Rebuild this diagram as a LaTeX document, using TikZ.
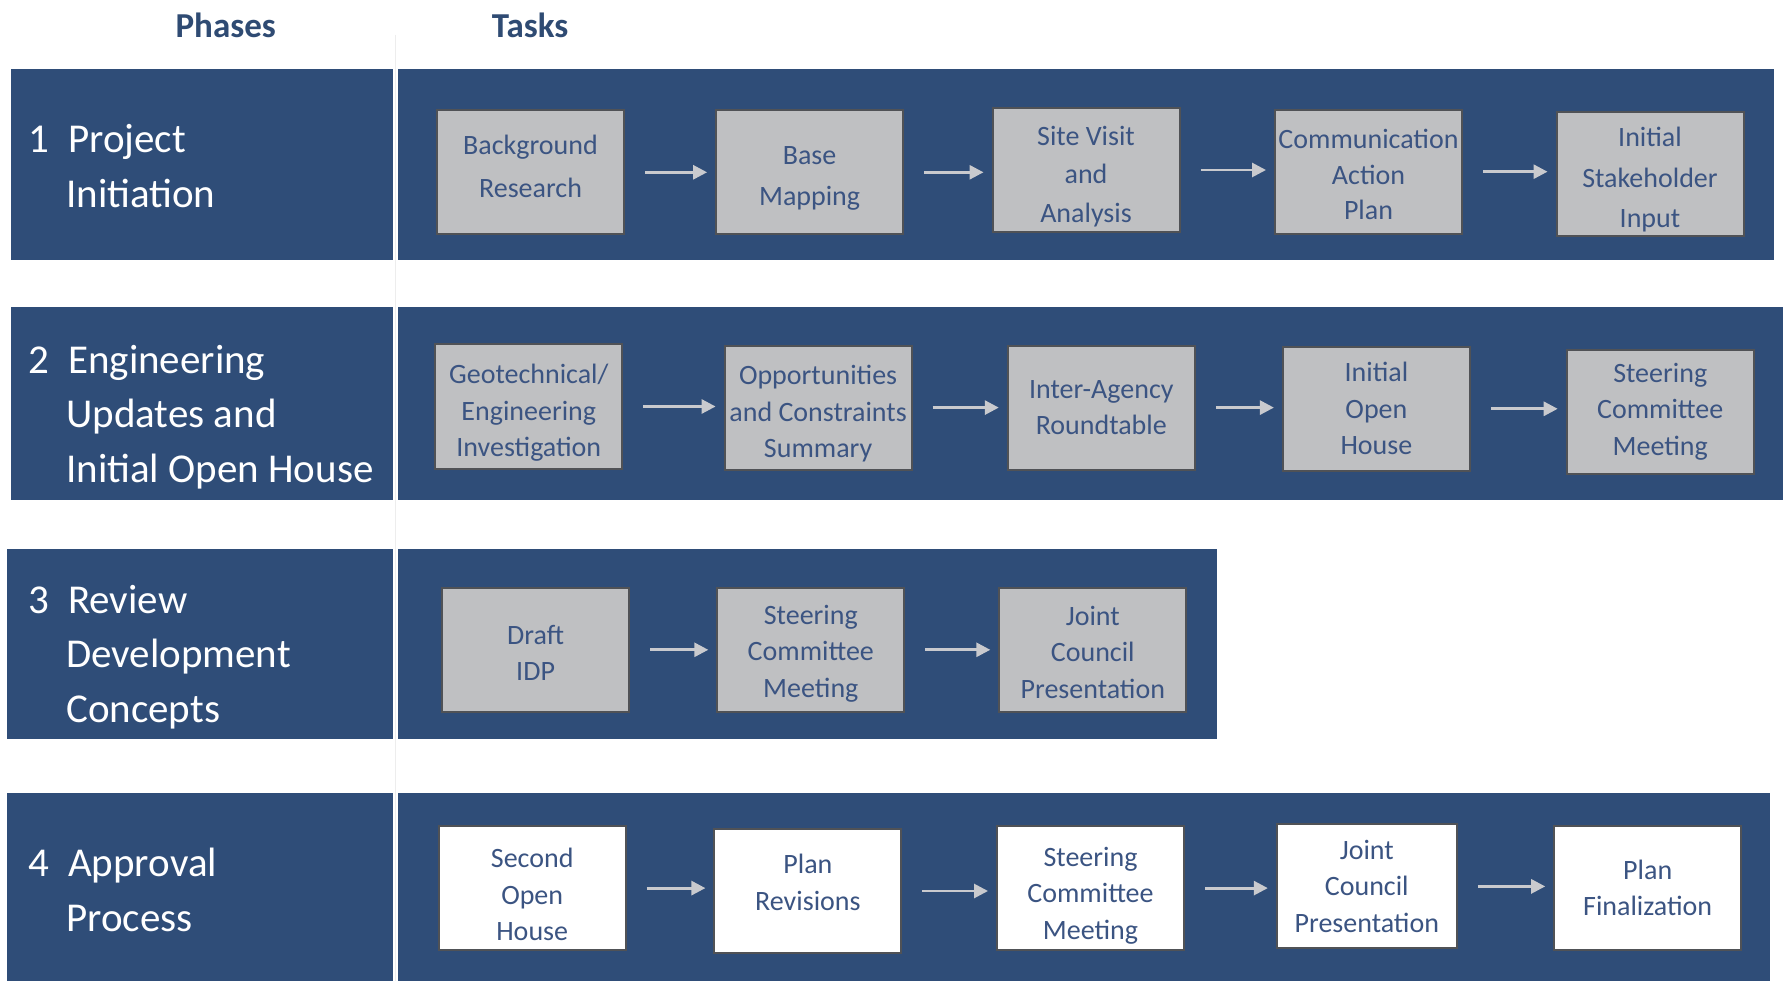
\documentclass[tikz,border=0pt]{standalone}
\usepackage{fontspec}
\setmainfont{Carlito}
\usetikzlibrary{arrows.meta}
\definecolor{bandblue}{HTML}{2F4D78}
\definecolor{boxgray}{HTML}{BFC0C2}
\definecolor{boxborder}{HTML}{505256}
\definecolor{boxtext}{HTML}{3B5482}
\definecolor{arrowgray}{HTML}{C9CACE}
\definecolor{headblue}{HTML}{2F4B73}
\newcommand\tup[1]{\rule{0pt}{#1pt}}
\newcommand\tdn[1]{\rule[-#1pt]{0pt}{#1pt}}
\begin{document}
\begin{tikzpicture}[x=1pt,y=-1pt,
  band/.style={fill=bandblue, draw=none},
  task/.style={draw=boxborder, line width=2pt, fill=boxgray, minimum width=187pt, minimum height=124pt, inner sep=0pt, align=center, text=boxtext, font=\fontsize{28}{36.5}\selectfont},
  wtask/.style={task, fill=white},
  flow/.style={draw=arrowgray, line width=2.8pt, -{Triangle[length=14pt,width=14pt]}, shorten <=20pt, shorten >=8pt},
  phase/.style={anchor=west, align=left, text=white, font=\fontsize{41}{54.5}\selectfont, inner sep=0pt},
  header/.style={text=headblue, font=\fontsize{35}{40}\selectfont\bfseries, inner sep=0pt}
]
\useasboundingbox (0,0) rectangle (1783,981);
\fill[white] (0,0) rectangle (1783,981);
\draw[black!7, line width=1pt] (395.5,35) -- (395.5,981);

% headers
\node[header] (hph) at (225.7,25) {Phases};
\node[header] (hta) at (530,25) {Tasks};

% bands
\fill[band] (11.4,69.4) rectangle (393.4,260.4);
\fill[band] (398,69.4) rectangle (1774,260.4);
\fill[band] (11.4,307) rectangle (393.4,500.3);
\fill[band] (398,307) rectangle (1783,500.3);
\fill[band] (6.8,549) rectangle (393.4,739);
\fill[band] (398,549) rectangle (1217,739);
\fill[band] (6.8,792.6) rectangle (393.4,981);
\fill[band] (398,792.6) rectangle (1770,981);

% phases
\node[phase] (p1) at (28,166) {\makebox[40pt][l]{1}Project\\\hspace*{38pt}Initiation};
\node[phase] (p2) at (28,416.8) {\makebox[40pt][l]{2}Engineering\\\hspace*{38pt}Updates and\\\hspace*{38pt}Initial Open House};
\node[phase] (p3) at (28,657) {\makebox[40pt][l]{3}Review\\\hspace*{38pt}Development\\\hspace*{38pt}Concepts};
\node[phase] (p4) at (28,890) {\makebox[40pt][l]{4}Approval\\\hspace*{38pt}Process};

% row 1
\node[task, font=\fontsize{28}{43}\selectfont] (b11) at (530.5,172.3) {Background\\Research\tdn{13}};
\node[task, font=\fontsize{28}{41}\selectfont] (b12) at (809.6,172.3) {\tup{30}Base\\Mapping};
\node[task, font=\fontsize{28}{38.7}\selectfont] (b13) at (1086,170) {\tup{32}Site Visit\\and\\Analysis};
\node[task, font=\fontsize{28}{35.8}\selectfont] (b14) at (1368.5,171.7) {\tup{25}Communication\\Action\\Plan};
\node[task, font=\fontsize{28}{40.4}\selectfont] (b15) at (1650,174.5) {\tup{30}Initial\\Stakeholder\\Input};
\draw[flow] (b11.east) -- (b11.east -| b12.west);
\draw[flow] (b12.east) -- (b12.east -| b13.west);
\draw[flow] (b13.east) -- (b13.east -| b14.west);
\draw[flow] (b14.east) -- (b14.east -| b15.west);

% row 2
\node[task] (b21) at (528.8,406.5) {\tup{32}Geotechnical/\\Engineering\\Investigation};
\node[task] (b22) at (818.1,407.6) {\tup{32}Opportunities\\and Constraints\\Summary};
\node[task] (b23) at (1101.3,407.6) {Inter-Agency\\Roundtable};
\node[task] (b24) at (1376.4,408.8) {Initial\\Open\\House};
\node[task] (b25) at (1660.2,411.6) {Steering\\Committee\\Meeting};
\draw[flow] (b21.east) -- (b21.east -| b22.west);
\draw[flow] (b22.east) -- (b22.east -| b23.west);
\draw[flow] (b23.east) -- (b23.east -| b24.west);
\draw[flow] (b24.east) -- (b24.east -| b25.west);

% row 3
\node[task] (b31) at (535.6,649.8) {\tup{25}Draft\\IDP};
\node[task] (b32) at (810.8,649.8) {\tup{27}Steering\\Committee\\Meeting};
\node[task] (b33) at (1092.8,649.8) {\tup{24}Joint\\Council\\Presentation};
\draw[flow] (b31.east) -- (b31.east -| b32.west);
\draw[flow] (b32.east) -- (b32.east -| b33.west);

% row 4
\node[wtask] (b41) at (532.2,888.1) {\tup{32}Second\\Open\\House};
\node[wtask] (b42) at (807.9,891) {Plan\\Revisions\tdn{17}};
\node[wtask] (b43) at (1090.5,888.1) {\tup{34}Steering\\Committee\\Meeting};
\node[wtask, minimum width=180pt] (b44) at (1366.8,886.4) {Joint\\Council\\Presentation};
\node[wtask] (b45) at (1647.7,888.1) {Plan\\Finalization};
\draw[flow] (b41.east) -- (b41.east -| b42.west);
\draw[flow] (b42.east) -- (b42.east -| b43.west);
\draw[flow] (b43.east) -- (b43.east -| b44.west);
\draw[flow] (b44.east) -- (b44.east -| b45.west);
\end{tikzpicture}
\end{document}
